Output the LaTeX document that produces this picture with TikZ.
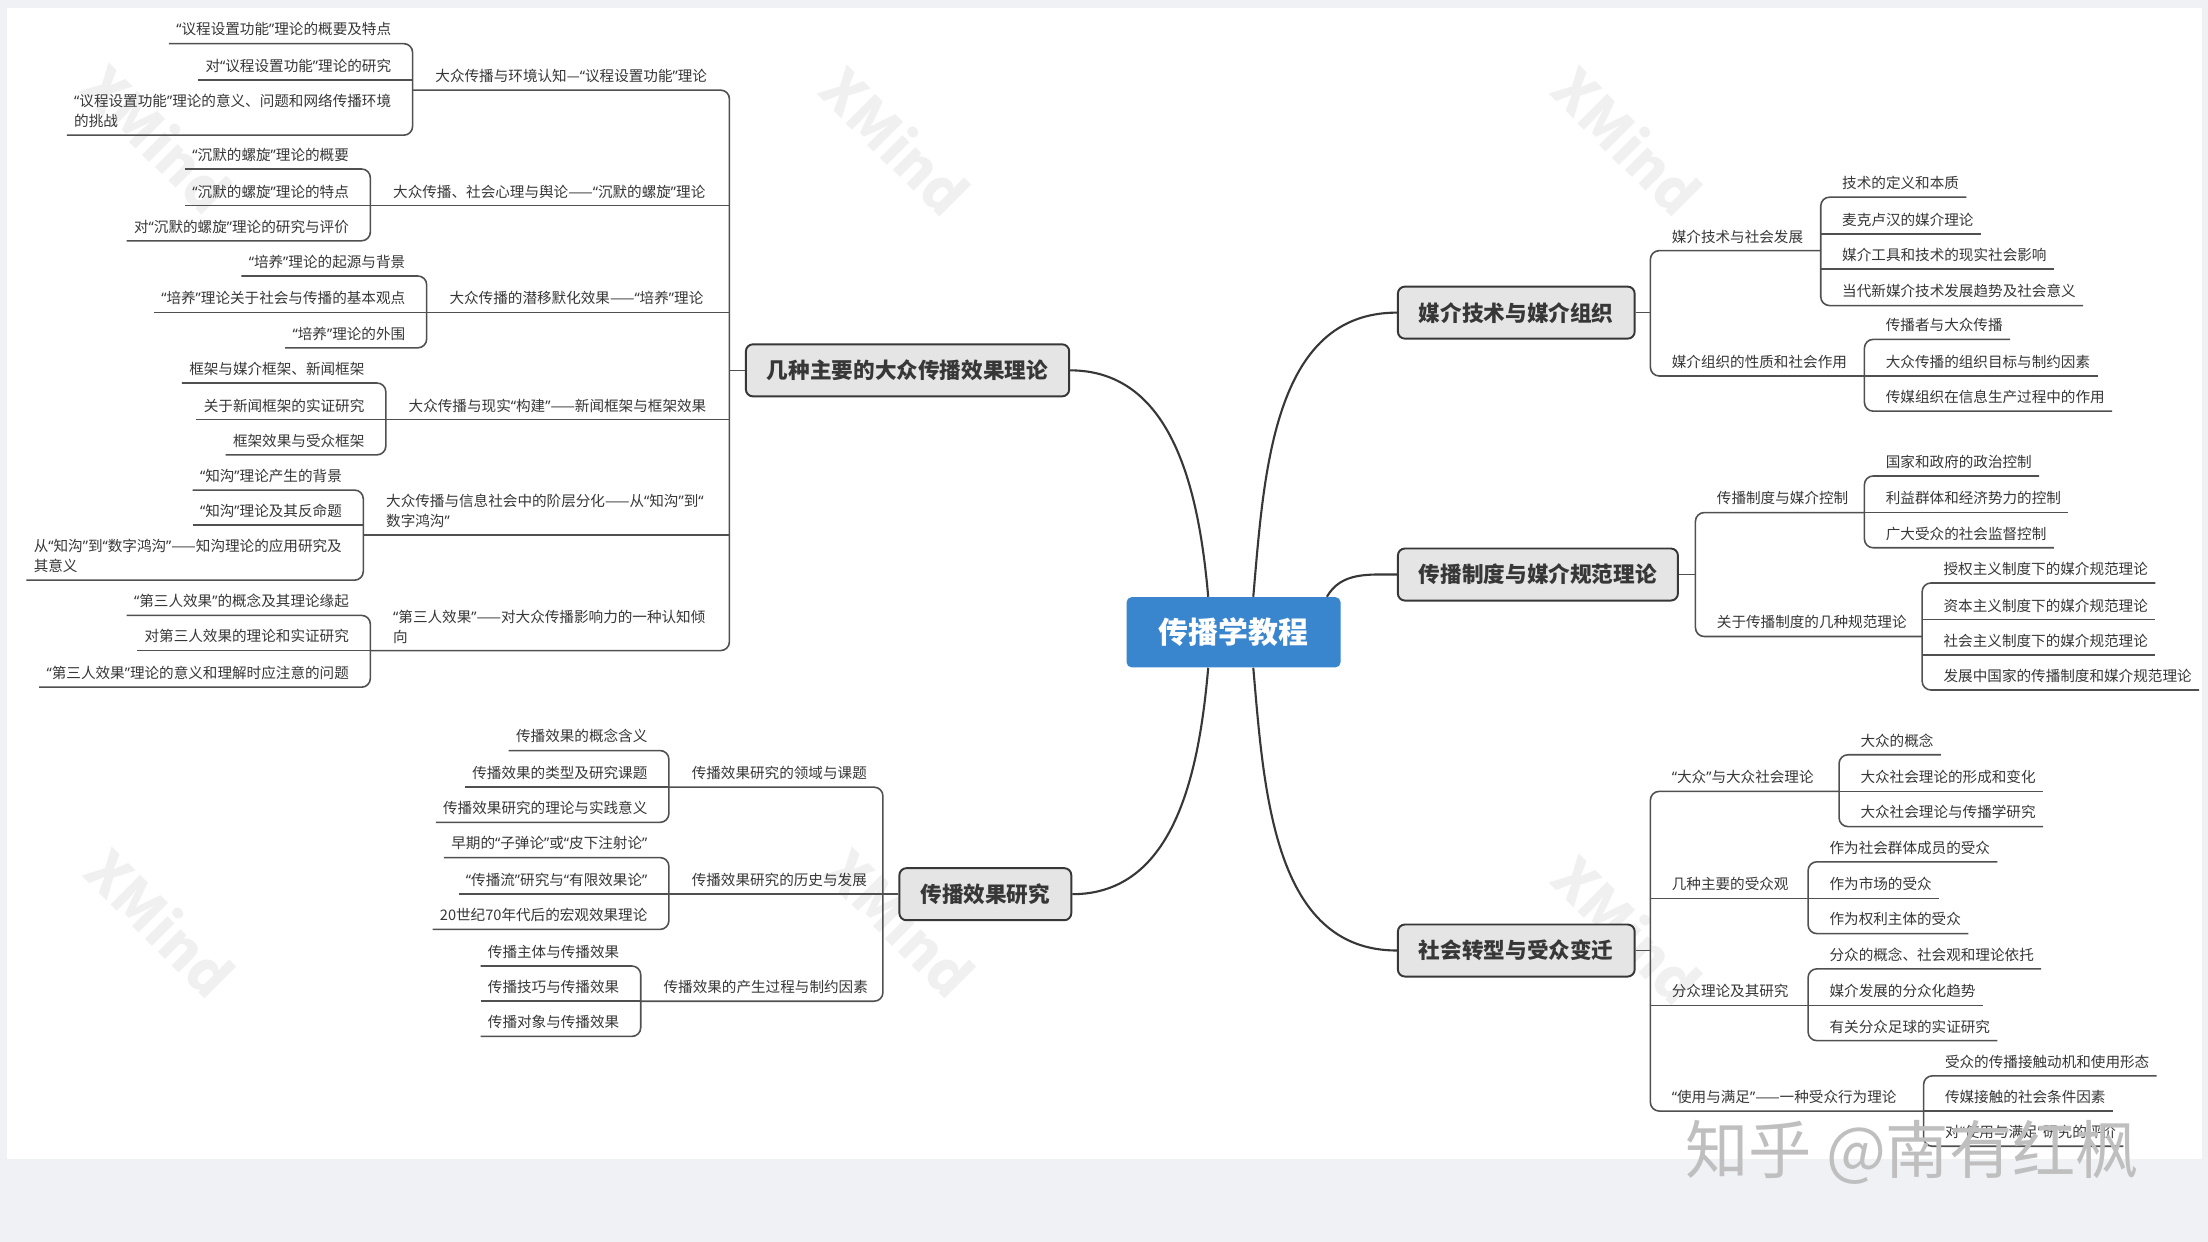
\documentclass[tikz,border=0pt]{standalone}
\usepackage{fontspec}
\setmainfont{Noto Sans CJK SC}
\newfontfamily\quotefont{Noto Sans}
\usepackage{tikz}
\usetikzlibrary{calc}

\definecolor{paper}{RGB}{240,241,245}
\definecolor{rootblue}{RGB}{58,134,206}
\definecolor{topicfill}{RGB}{229,229,229}
\definecolor{ink}{RGB}{55,55,55}
\definecolor{wiregray}{RGB}{80,80,80}

% narrow western quotes inside the CJK text
\catcode`“=\active
\catcode`”=\active
\protected\def“{{\quotefont\symbol{"201C}}}
\protected\def”{{\quotefont\symbol{"201D}}}

\begin{document}
\begin{tikzpicture}[x=0.02816cm, y=-0.02816cm,
  rootbox/.style={fill=rootblue, rounded corners=3pt, text=white, minimum width=121.8pt, minimum height=40pt, font=\fontsize{17}{20}\selectfont\bfseries},
  topicbox/.style={draw=ink, fill=topicfill, line width=1.1pt, rounded corners=4pt, text=ink, inner xsep=12pt, minimum height=29.6pt, anchor=west, font=\fontsize{12.3}{15}\selectfont\bfseries},
  subtopic/.style={anchor=south west, inner xsep=4pt, inner ysep=4pt, text=ink, align=left, font=\fontsize{8.3}{11.2}\selectfont},
  leafL/.style={subtopic, anchor=south east},
  leafR/.style={subtopic},
  wire/.style={draw=wiregray, line width=0.9pt, rounded corners=5pt},
  limb/.style={draw=ink, line width=1.2pt},
  wmark/.style={rotate=-45, text=black!6, font=\fontsize{32}{32}\selectfont\bfseries}
]

% page
\fill[paper] (0,0) rectangle (1568,882);
\fill[white] (5,6) rectangle (1564,823);
\useasboundingbox (0,0) rectangle (1568,882);
\foreach \wx/\wy [count=\i] in {112/98, 636/100, 1156/100, 114/655, 640/655, 1156/660}
  \node[wmark] (wm\i) at (\wx,\wy) {XMind};

\node[rootbox] (root) at (876,449) {传播学教程};

% --- 几种主要的大众传播效果理论
\node[topicbox] (eff) at (529,263) {几种主要的大众传播效果理论};
\coordinate (effS) at (518,0);
\coordinate (agS) at (293,0);
\coordinate (spS) at (263,0);
\coordinate (cuS) at (303,0);
\coordinate (frS) at (274,0);
\coordinate (kgS) at (258,0);
\coordinate (tpS) at (263,0);

\node[subtopic] (ag) at (304,64) {大众传播与环境认知—“议程设置功能”理论};
\node[leafL] (ag1) at (283,31) {“议程设置功能”理论的概要及特点};
\node[leafL] (ag2) at (283,57) {对“议程设置功能”理论的研究};
\node[leafL] (ag3) at (283,96) {“议程设置功能”理论的意义、问题和网络传播环境\\的挑战};

\node[subtopic] (sp) at (274,146) {大众传播、社会心理与舆论——“沉默的螺旋”理论};
\node[leafL] (sp1) at (253,120) {“沉默的螺旋”理论的概要};
\node[leafL] (sp2) at (253,146) {“沉默的螺旋”理论的特点};
\node[leafL] (sp3) at (253,171) {对“沉默的螺旋”理论的研究与评价};

\node[subtopic] (cu) at (314,222) {大众传播的潜移默化效果——“培养”理论};
\node[leafL] (cu1) at (293,196) {“培养”理论的起源与背景};
\node[leafL] (cu2) at (293,222) {“培养”理论关于社会与传播的基本观点};
\node[leafL] (cu3) at (293,247) {“培养”理论的外围};

\node[subtopic] (fr) at (285,298) {大众传播与现实“构建”——新闻框架与框架效果};
\node[leafL] (fr1) at (264,272) {框架与媒介框架、新闻框架};
\node[leafL] (fr2) at (264,298) {关于新闻框架的实证研究};
\node[leafL] (fr3) at (264,323) {框架效果与受众框架};

\node[subtopic] (kg) at (269,380) {大众传播与信息社会中的阶层分化——从“知沟”到“\\数字鸿沟”};
\node[leafL] (kg1) at (248,348) {“知沟”理论产生的背景};
\node[leafL] (kg2) at (248,373) {“知沟”理论及其反命题};
\node[leafL] (kg3) at (248,412) {从“知沟”到“数字鸿沟”——知沟理论的应用研究及\\其意义};

\node[subtopic] (tp) at (274,462) {“第三人效果”——对大众传播影响力的一种认知倾\\向};
\node[leafL] (tp1) at (253,437) {“第三人效果”的概念及其理论缘起};
\node[leafL] (tp2) at (253,462) {对第三人效果的理论和实证研究};
\node[leafL] (tp3) at (253,488) {“第三人效果”理论的意义和理解时应注意的问题};

% --- 传播效果研究
\node[topicbox] (res) at (638,635) {传播效果研究};
\coordinate (resS) at (627,0);
\coordinate (raS) at (475,0);
\coordinate (rbS) at (475,0);
\coordinate (rcS) at (455,0);

\node[subtopic] (ra) at (486,559) {传播效果研究的领域与课题};
\node[leafL] (ra1) at (465,533) {传播效果的概念含义};
\node[leafL] (ra2) at (465,559) {传播效果的类型及研究课题};
\node[leafL] (ra3) at (465,584) {传播效果研究的理论与实践意义};

\node[subtopic] (rb) at (486,635) {传播效果研究的历史与发展};
\node[leafL] (rb1) at (465,609) {早期的“子弹论”或“皮下注射论”};
\node[leafL] (rb2) at (465,635) {“传播流”研究与“有限效果论”};
\node[leafL] (rb3) at (465,660) {20世纪70年代后的宏观效果理论};

\node[subtopic] (rc) at (466,711) {传播效果的产生过程与制约因素};
\node[leafL] (rc1) at (445,686) {传播主体与传播效果};
\node[leafL] (rc2) at (445,711) {传播技巧与传播效果};
\node[leafL] (rc3) at (445,736) {传播对象与传播效果};

% --- 媒介技术与媒介组织
\node[topicbox] (med) at (992,222) {媒介技术与媒介组织};
\coordinate (medS) at (1172,0);
\coordinate (maS) at (1293,0);
\coordinate (mbS) at (1324,0);

\node[subtopic] (ma) at (1182,178) {媒介技术与社会发展};
\node[leafR] (ma1) at (1303,140) {技术的定义和本质};
\node[leafR] (ma2) at (1303,166) {麦克卢汉的媒介理论};
\node[leafR] (ma3) at (1303,191) {媒介工具和技术的现实社会影响};
\node[leafR] (ma4) at (1303,217) {当代新媒介技术发展趋势及社会意义};

\node[subtopic] (mb) at (1182,267) {媒介组织的性质和社会作用};
\node[leafR] (mb1) at (1334,241) {传播者与大众传播};
\node[leafR] (mb2) at (1334,267) {大众传播的组织目标与制约因素};
\node[leafR] (mb3) at (1334,292) {传媒组织在信息生产过程中的作用};

% --- 传播制度与媒介规范理论
\node[topicbox] (sys) at (992,408) {传播制度与媒介规范理论};
\coordinate (sysS) at (1204,0);
\coordinate (saS) at (1324,0);
\coordinate (sbS) at (1365,0);

\node[subtopic] (sa) at (1214,364) {传播制度与媒介控制};
\node[leafR] (sa1) at (1334,338) {国家和政府的政治控制};
\node[leafR] (sa2) at (1334,364) {利益群体和经济势力的控制};
\node[leafR] (sa3) at (1334,389) {广大受众的社会监督控制};

\node[subtopic] (sb) at (1214,452) {关于传播制度的几种规范理论};
\node[leafR] (sb1) at (1375,414) {授权主义制度下的媒介规范理论};
\node[leafR] (sb2) at (1375,440) {资本主义制度下的媒介规范理论};
\node[leafR] (sb3) at (1375,465) {社会主义制度下的媒介规范理论};
\node[leafR] (sb4) at (1375,490) {发展中国家的传播制度和媒介规范理论};

% --- 社会转型与受众变迁
\node[topicbox] (aud) at (992,675) {社会转型与受众变迁};
\coordinate (audS) at (1172,0);
\coordinate (uaS) at (1306,0);
\coordinate (ubS) at (1284,0);
\coordinate (ucS) at (1284,0);
\coordinate (udS) at (1366,0);

\node[subtopic] (ua) at (1182,562) {“大众”与大众社会理论};
\node[leafR] (ua1) at (1316,536) {大众的概念};
\node[leafR] (ua2) at (1316,562) {大众社会理论的形成和变化};
\node[leafR] (ua3) at (1316,587) {大众社会理论与传播学研究};

\node[subtopic] (ub) at (1182,638) {几种主要的受众观};
\node[leafR] (ub1) at (1294,612) {作为社会群体成员的受众};
\node[leafR] (ub2) at (1294,638) {作为市场的受众};
\node[leafR] (ub3) at (1294,663) {作为权利主体的受众};

\node[subtopic] (uc) at (1182,714) {分众理论及其研究};
\node[leafR] (uc1) at (1294,688) {分众的概念、社会观和理论依托};
\node[leafR] (uc2) at (1294,714) {媒介发展的分众化趋势};
\node[leafR] (uc3) at (1294,739) {有关分众足球的实证研究};

\node[subtopic] (ud) at (1182,789) {“使用与满足”——一种受众行为理论};
\node[leafR] (ud1) at (1376,764) {受众的传播接触动机和使用形态};
\node[leafR] (ud2) at (1376,789) {传媒接触的社会条件因素};
\node[leafR] (ud3) at (1376,814) {对“使用与满足”研究的评价};

% leaf brackets
\foreach \p/\s in {ag/agS, sp/spS, cu/cuS, fr/frS, kg/kgS, tp/tpS, ra/raS, rb/rbS, rc/rcS} {
  \draw[wire] (\p1.south west) -- (\p1.south -| \s) -- (\p3.south -| \s) -- (\p3.south west);
  \draw[wire] (\p2.south west) -- (\p2.south -| \s);
}
\foreach \p/\s/\n in {ma/maS/4, mb/mbS/3, sa/saS/3, sb/sbS/4, ua/uaS/3, ub/ubS/3, uc/ucS/3, ud/udS/3} {
  \draw[wire] (\p1.south east) -- (\p1.south -| \s) -- (\p\n.south -| \s) -- (\p\n.south east);
  \pgfmathtruncatemacro\m{\n-1}
  \foreach \k in {2,...,\m}
    \draw[wire] (\p\k.south -| \s) -- (\p\k.south east);
}

% topic brackets
\draw[wire] (eff.west) -- (eff.west -| effS);
\draw[wire] (ag.south -| agS) -- (ag.south -| effS) -- (tp.south -| effS) -- (tp.south -| tpS);
\foreach \p/\s in {sp/spS, cu/cuS, fr/frS, kg/kgS}
  \draw[wire] (\p.south -| \s) -- (\p.south -| effS);

\draw[wire] (res.west) -- (res.west -| resS);
\draw[wire] (ra.south -| raS) -- (ra.south -| resS) -- (rc.south -| resS) -- (rc.south -| rcS);
\draw[wire] (rb.south -| rbS) -- (rb.south -| resS);

\draw[wire] (med.east) -- (med.east -| medS);
\draw[wire] (ma.south -| maS) -- (ma.south -| medS) -- (mb.south -| medS) -- (mb.south -| mbS);

\draw[wire] (sys.east) -- (sys.east -| sysS);
\draw[wire] (sa.south -| saS) -- (sa.south -| sysS) -- (sb.south -| sysS) -- (sb.south -| sbS);

\draw[wire] (aud.east) -- (aud.east -| audS);
\draw[wire] (ua.south -| uaS) -- (ua.south -| audS) -- (ud.south -| audS) -- (ud.south -| udS);
\foreach \p/\s in {ub/ubS, uc/ucS}
  \draw[wire] (\p.south -| audS) -- (\p.south -| \s);

% root to topics
\draw[limb] ($(root.north)+(-18,0)$) to[out=95,in=0] (eff.east);
\draw[limb] ($(root.north)+(14,0)$) to[out=85,in=180] (med.west);
\draw[limb] ($(root.north east)+(-10,0)$) to[out=60,in=180] (sys.west);
\draw[limb] ($(root.south)+(14,0)$) to[out=-85,in=180] (aud.west);
\draw[limb] ($(root.south)+(-18,0)$) to[out=-95,in=0] (res.east);

\node[text=black!25, font=\fontsize{36}{36}\selectfont] (zhihu) at (1358,818) {知乎 @南有红枫};

\end{tikzpicture}
\end{document}
